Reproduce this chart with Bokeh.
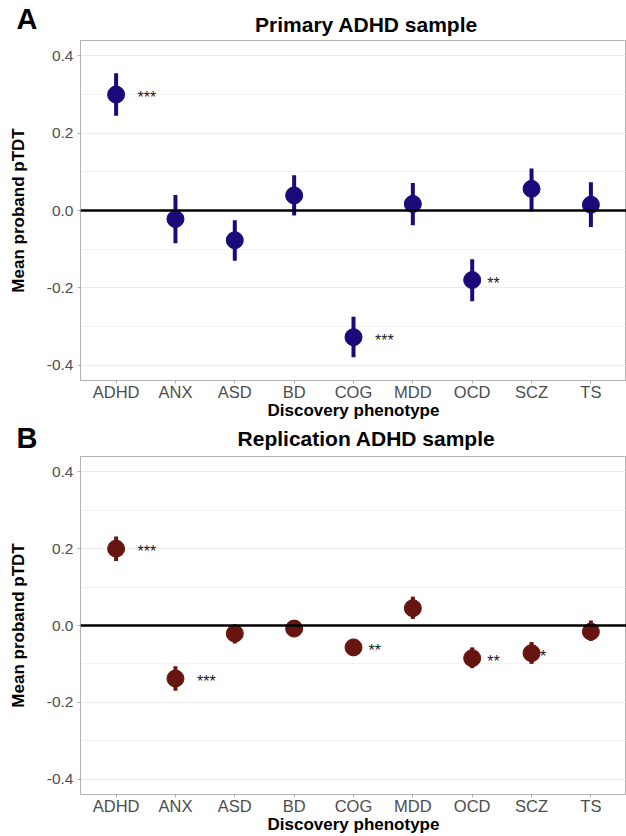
from bokeh.plotting import figure
from bokeh.models import (ColumnDataSource, FactorRange, Range1d, FixedTicker,
                          PrintfTickFormatter, Span, Label, LinearAxis)
from bokeh.layouts import column
from bokeh.core.properties import value
from bokeh.embed import file_html
from bokeh.resources import INLINE

categories = ["ADHD", "ANX", "ASD", "BD", "COG", "MDD", "OCD", "SCZ", "TS"]

# Panel A: primary ADHD sample
primary_mean = [0.300, -0.022, -0.077, 0.039, -0.328, 0.017, -0.180, 0.056, 0.015]
primary_lo = [0.245, -0.085, -0.130, -0.013, -0.380, -0.038, -0.235, -0.002, -0.043]
primary_hi = [0.355, 0.040, -0.025, 0.091, -0.275, 0.071, -0.126, 0.109, 0.073]
primary_stars = ["***", "", "", "", "***", "", "**", "", ""]

# Panel B: replication ADHD sample
replic_mean = [0.200, -0.138, -0.021, -0.008, -0.057, 0.045, -0.085, -0.072, -0.016]
replic_lo = [0.168, -0.170, -0.047, -0.027, -0.064, 0.017, -0.111, -0.100, -0.040]
replic_hi = [0.232, -0.106, 0.004, 0.013, -0.050, 0.075, -0.057, -0.043, 0.013]
replic_stars = ["***", "***", "", "", "**", "", "**", "*", ""]

y_ticks = [-0.4, -0.2, 0.0, 0.2, 0.4]
y_minor = [-0.3, -0.1, 0.1, 0.3]

titles = ["Primary ADHD sample", "Replication ADHD sample"]
panel_letters = ["A", "B"]
colors = ["#1A0B7A", "#661511"]

FONT = "Liberation Sans"
W = 626
LEFT = 80


def make_header(title, letter, height, title_y, letter_pos):
    h = figure(width=W, height=height, x_range=Range1d(0, W - LEFT),
               y_range=Range1d(-0.5, height - 0.5), x_axis_type=None,
               y_axis_type=None, output_backend="svg", toolbar_location=None,
               min_border_left=LEFT, min_border_right=0, min_border_top=0,
               min_border_bottom=0)
    h.title.visible = False
    h.outline_line_color = None
    h.background_fill_color = "white"
    h.border_fill_color = "white"
    # panel letter, drawn as the single tick label of a bare left axis
    ax = LinearAxis(ticker=FixedTicker(ticks=[letter_pos]),
                    major_label_overrides={letter_pos: letter})
    ax.axis_line_color = None
    ax.major_tick_line_color = None
    ax.minor_tick_line_color = None
    ax.major_tick_out = 0
    ax.major_tick_in = 0
    ax.major_label_standoff = 43
    ax.major_label_text_font = FONT
    ax.major_label_text_font_size = "29px"
    ax.major_label_text_font_style = "bold"
    ax.major_label_text_color = "black"
    h.add_layout(ax, "left")
    # panel title
    h.add_layout(Label(x=366 - LEFT, y=title_y, x_units="screen",
                       y_units="screen", text=title, text_align="center",
                       text_baseline="alphabetic", text_font=FONT,
                       text_font_size="21px", text_font_style="bold",
                       text_color="black"))
    return h


def make_panel(mean, lo, hi, stars, color, height):
    src = ColumnDataSource(dict(
        cat=categories, mean=mean, lo=lo, hi=hi, stars=stars,
        xoff=[6.5 * len(s) + 2 for s in stars],
    ))
    p = figure(
        x_range=FactorRange(factors=categories, range_padding=0.1,
                            range_padding_units="absolute"),
        y_range=Range1d(-0.44, 0.44),
        width=W, height=height,
        output_backend="svg", toolbar_location=None,
        min_border_left=LEFT, min_border_right=0, min_border_top=1,
        min_border_bottom=0,
    )
    p.title.visible = False
    p.background_fill_color = "white"
    p.border_fill_color = "white"
    p.outline_line_color = "#b3b3b3"
    p.outline_line_width = 1

    # grids
    p.xgrid.grid_line_color = None
    p.yaxis.ticker = FixedTicker(ticks=y_ticks, minor_ticks=y_minor)
    p.ygrid.grid_line_color = "#ebebeb"
    p.ygrid.grid_line_width = 1.2
    p.ygrid.minor_grid_line_color = "#f0f0f0"
    p.ygrid.minor_grid_line_width = 0.8

    # axes
    for ax in (p.xaxis, p.yaxis):
        ax.axis_line_color = "#b3b3b3"
        ax.major_tick_line_color = "#b3b3b3"
        ax.major_tick_out = 3
        ax.major_tick_in = 0
        ax.minor_tick_line_color = None
        ax.major_label_text_color = "#4d4d4d"
        ax.major_label_text_font = FONT
        ax.axis_label_text_font = FONT
        ax.axis_label_text_font_style = "bold"
        ax.axis_label_text_color = "black"
        ax.axis_label_text_font_size = "17px"
    p.xaxis.major_label_text_font_size = "16.5px"
    p.yaxis.major_label_text_font_size = "15.5px"
    p.xaxis.major_label_standoff = -1
    p.yaxis.major_label_standoff = 3
    p.xaxis.axis_label = "Discovery phenotype"
    p.yaxis.axis_label = "Mean proband pTDT"
    p.xaxis.axis_label_standoff = -3
    p.yaxis.axis_label_standoff = 16
    p.yaxis.formatter = PrintfTickFormatter(format="%.1f")

    # zero line
    p.add_layout(Span(location=0, dimension="width", line_color="black",
                      line_width=2.5))

    # error bars and points
    p.segment(x0="cat", y0="lo", x1="cat", y1="hi", source=src,
              line_color=color, line_width=4)
    p.scatter(x="cat", y="mean", source=src, size=17, fill_color=color,
              line_color=color)
    p.text(x="cat", y="mean", text="stars", source=src, x_offset="xoff",
           y_offset=3, text_align="left", text_baseline="middle",
           text_font=value(FONT), text_font_size="16px", text_color="#1a1a1a")
    return p


ha = make_header(titles[0], panel_letters[0], 39, 15, 20)
pa = make_panel(primary_mean, primary_lo, primary_hi, primary_stars,
                colors[0], 383)
hb = make_header(titles[1], panel_letters[1], 33, 17, 14)
pb = make_panel(replic_mean, replic_lo, replic_hi, replic_stars,
                colors[1], 381)

layout = column(ha, pa, hb, pb, spacing=0)
open("out.html", "w").write(file_html(layout, INLINE))
